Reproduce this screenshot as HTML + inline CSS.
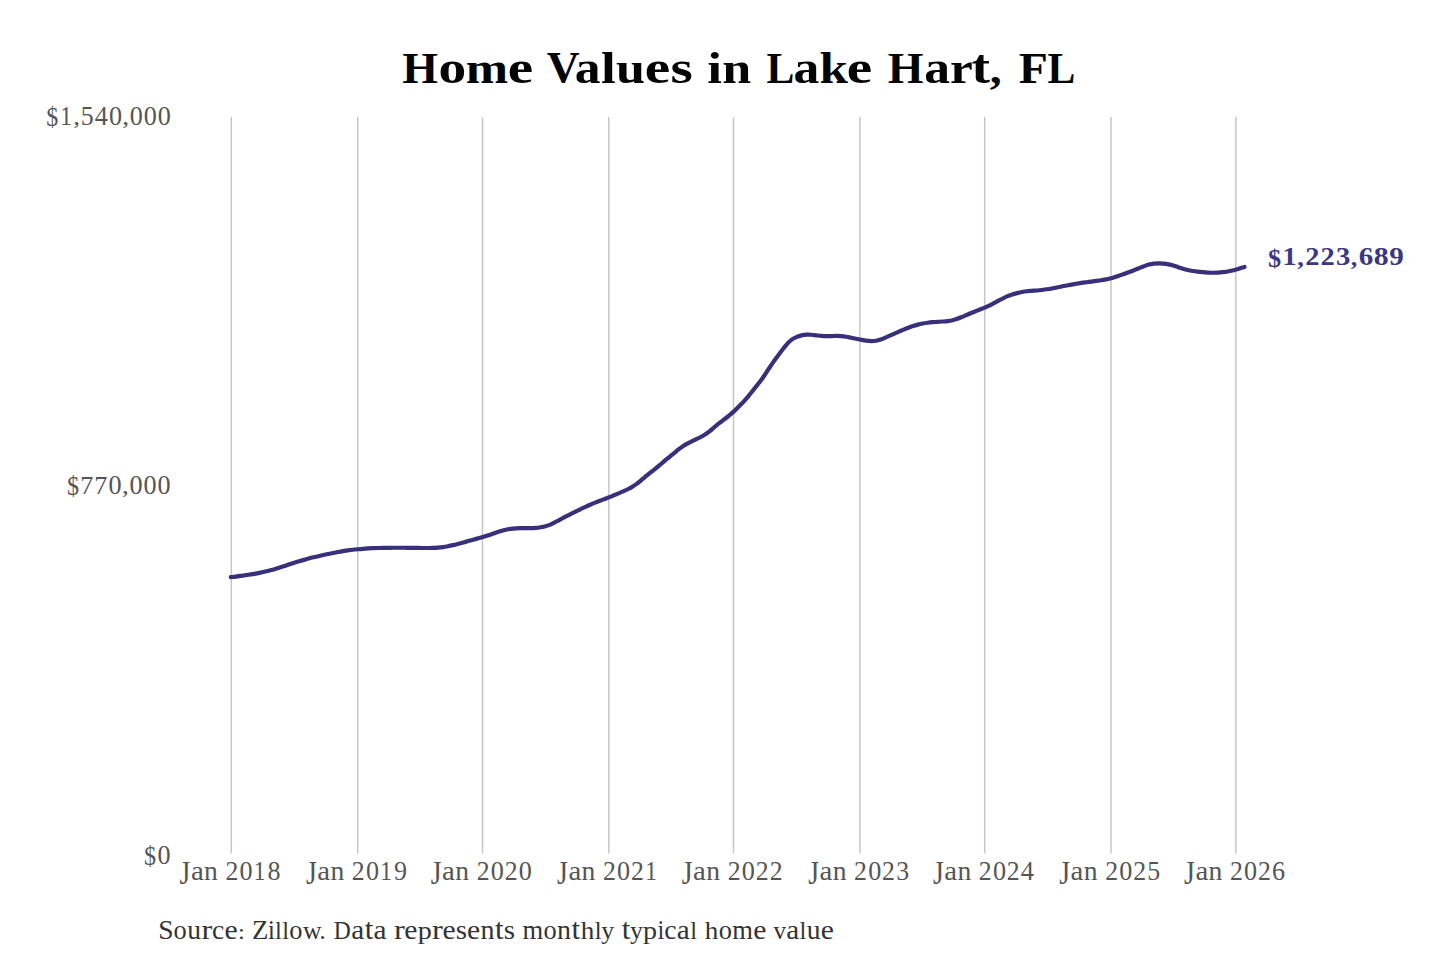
<!DOCTYPE html>
<html><head><meta charset="utf-8"><title>Home Values in Lake Hart, FL</title>
<style>
html,body{margin:0;padding:0;background:#fff;width:1440px;height:960px;overflow:hidden}
svg{display:block}
text{font-family:"Liberation Serif",serif}
</style></head><body>
<svg width="1440" height="960" viewBox="0 0 1440 960">
<rect width="1440" height="960" fill="#fff"/>
<g id="grid" stroke="#c6c6c6" stroke-width="1.5">
<line x1="231.30" y1="117" x2="231.30" y2="853.5"/>
<line x1="357.70" y1="117" x2="357.70" y2="853.5"/>
<line x1="482.50" y1="117" x2="482.50" y2="853.5"/>
<line x1="608.80" y1="117" x2="608.80" y2="853.5"/>
<line x1="733.50" y1="117" x2="733.50" y2="853.5"/>
<line x1="859.90" y1="117" x2="859.90" y2="853.5"/>
<line x1="984.70" y1="117" x2="984.70" y2="853.5"/>
<line x1="1111.00" y1="117" x2="1111.00" y2="853.5"/>
<line x1="1235.80" y1="117" x2="1235.80" y2="853.5"/>
</g>
<path id="series" d="M230.80,577.10 C231.65,577.01 234.26,576.76 235.92,576.56 C237.58,576.37 239.13,576.15 240.76,575.92 C242.39,575.69 244.07,575.44 245.72,575.19 C247.37,574.94 249.03,574.69 250.68,574.42 C252.33,574.16 253.98,573.88 255.62,573.58 C257.27,573.28 258.91,572.97 260.55,572.63 C262.18,572.29 263.82,571.93 265.44,571.55 C267.07,571.16 268.69,570.75 270.31,570.32 C271.92,569.89 273.53,569.44 275.13,568.96 C276.73,568.48 278.33,567.98 279.92,567.47 C281.51,566.96 283.10,566.43 284.68,565.90 C286.27,565.37 287.85,564.81 289.43,564.29 C291.02,563.76 292.61,563.24 294.20,562.74 C295.80,562.24 297.40,561.77 299.01,561.29 C300.61,560.81 302.21,560.34 303.82,559.87 C305.42,559.41 307.03,558.94 308.64,558.51 C310.26,558.08 311.88,557.68 313.51,557.30 C315.13,556.91 316.77,556.55 318.40,556.18 C320.03,555.81 321.66,555.44 323.29,555.07 C324.92,554.71 326.55,554.34 328.19,554.00 C329.83,553.65 331.46,553.31 333.10,552.99 C334.74,552.66 336.39,552.34 338.03,552.04 C339.67,551.73 341.32,551.43 342.97,551.15 C344.61,550.87 346.26,550.60 347.92,550.36 C349.57,550.13 351.23,549.93 352.89,549.75 C354.55,549.56 356.22,549.40 357.88,549.24 C359.55,549.08 361.21,548.93 362.88,548.80 C364.55,548.67 366.21,548.55 367.88,548.45 C369.55,548.35 371.22,548.27 372.89,548.20 C374.56,548.13 376.23,548.07 377.91,548.02 C379.58,547.97 381.25,547.93 382.92,547.90 C384.59,547.86 386.26,547.84 387.94,547.82 C389.61,547.80 391.28,547.78 392.95,547.77 C394.62,547.76 396.30,547.76 397.97,547.75 C399.64,547.75 401.31,547.76 402.99,547.76 C404.66,547.77 406.33,547.78 408.00,547.80 C409.67,547.82 411.35,547.84 413.02,547.86 C414.69,547.89 416.36,547.92 418.03,547.95 C419.71,547.97 421.38,548.00 423.05,548.01 C424.72,548.02 426.39,548.03 428.07,548.02 C429.74,548.01 431.41,548.00 433.08,547.95 C434.75,547.89 436.42,547.83 438.08,547.70 C439.74,547.56 441.40,547.35 443.05,547.11 C444.70,546.87 446.35,546.56 447.99,546.24 C449.62,545.91 451.26,545.54 452.88,545.16 C454.51,544.78 456.13,544.37 457.75,543.95 C459.37,543.54 460.98,543.10 462.60,542.66 C464.21,542.22 465.82,541.77 467.43,541.32 C469.04,540.88 470.65,540.43 472.26,539.98 C473.87,539.53 475.48,539.08 477.09,538.62 C478.70,538.16 480.31,537.69 481.91,537.21 C483.51,536.74 485.11,536.26 486.71,535.76 C488.30,535.25 489.89,534.72 491.47,534.19 C493.05,533.65 494.62,533.08 496.21,532.54 C497.79,532.01 499.37,531.46 500.97,531.00 C502.57,530.53 504.18,530.09 505.81,529.74 C507.44,529.39 509.09,529.12 510.74,528.89 C512.39,528.66 514.06,528.50 515.72,528.39 C517.38,528.27 519.06,528.23 520.73,528.19 C522.40,528.16 524.07,528.17 525.74,528.17 C527.41,528.16 529.09,528.22 530.75,528.17 C532.42,528.13 534.09,528.06 535.75,527.90 C537.40,527.74 539.06,527.50 540.70,527.22 C542.35,526.94 544.00,526.63 545.60,526.20 C547.20,525.77 548.78,525.28 550.31,524.66 C551.85,524.04 553.31,523.23 554.78,522.47 C556.26,521.70 557.70,520.84 559.17,520.04 C560.64,519.25 562.12,518.46 563.60,517.68 C565.08,516.90 566.56,516.13 568.05,515.37 C569.54,514.61 571.03,513.86 572.53,513.11 C574.02,512.36 575.52,511.62 577.03,510.89 C578.53,510.15 580.03,509.42 581.54,508.70 C583.05,507.99 584.56,507.27 586.08,506.57 C587.60,505.88 589.13,505.20 590.66,504.54 C592.20,503.88 593.75,503.25 595.30,502.62 C596.85,502.00 598.41,501.39 599.97,500.78 C601.53,500.18 603.10,499.60 604.66,499.00 C606.21,498.40 607.77,497.79 609.32,497.17 C610.88,496.55 612.42,495.90 613.96,495.26 C615.51,494.62 617.06,493.99 618.60,493.35 C620.14,492.71 621.70,492.09 623.22,491.41 C624.74,490.72 626.25,490.01 627.74,489.25 C629.23,488.49 630.70,487.69 632.13,486.84 C633.56,485.99 634.97,485.11 636.33,484.14 C637.68,483.17 638.96,482.10 640.25,481.04 C641.54,479.99 642.79,478.87 644.07,477.80 C645.35,476.72 646.63,475.64 647.92,474.58 C649.22,473.53 650.54,472.51 651.86,471.47 C653.17,470.43 654.49,469.41 655.79,468.36 C657.09,467.30 658.37,466.23 659.65,465.16 C660.93,464.08 662.19,462.98 663.46,461.89 C664.73,460.81 666.00,459.72 667.29,458.65 C668.57,457.58 669.87,456.53 671.16,455.47 C672.45,454.41 673.75,453.35 675.03,452.28 C676.32,451.22 677.56,450.10 678.88,449.09 C680.20,448.07 681.54,447.10 682.94,446.20 C684.34,445.30 685.81,444.50 687.27,443.69 C688.73,442.89 690.22,442.12 691.71,441.37 C693.21,440.63 694.73,439.94 696.24,439.21 C697.74,438.48 699.26,437.78 700.73,436.99 C702.19,436.20 703.64,435.36 705.04,434.45 C706.44,433.55 707.79,432.56 709.11,431.55 C710.43,430.53 711.70,429.44 712.98,428.36 C714.26,427.29 715.50,426.18 716.80,425.12 C718.09,424.07 719.42,423.06 720.75,422.04 C722.07,421.02 723.42,420.03 724.75,419.01 C726.07,417.99 727.39,416.96 728.68,415.90 C729.97,414.84 731.25,413.77 732.49,412.65 C733.73,411.54 734.92,410.36 736.12,409.20 C737.32,408.04 738.51,406.86 739.68,405.68 C740.86,404.50 742.05,403.33 743.19,402.11 C744.33,400.88 745.43,399.62 746.51,398.35 C747.59,397.08 748.64,395.78 749.70,394.48 C750.75,393.19 751.79,391.87 752.84,390.57 C753.88,389.27 754.93,387.96 755.98,386.66 C757.02,385.35 758.08,384.05 759.10,382.73 C760.13,381.41 761.16,380.10 762.13,378.74 C763.11,377.39 764.03,376.00 764.96,374.60 C765.88,373.21 766.76,371.79 767.67,370.39 C768.59,368.99 769.51,367.59 770.45,366.21 C771.39,364.83 772.35,363.46 773.32,362.10 C774.29,360.74 775.29,359.40 776.27,358.04 C777.26,356.69 778.24,355.34 779.23,353.99 C780.22,352.65 781.19,351.28 782.21,349.96 C783.22,348.63 784.25,347.31 785.32,346.03 C786.40,344.76 787.47,343.46 788.65,342.31 C789.83,341.16 791.06,340.03 792.41,339.12 C793.77,338.21 795.26,337.46 796.77,336.83 C798.29,336.20 799.91,335.71 801.51,335.34 C803.12,334.98 804.78,334.73 806.42,334.63 C808.07,334.53 809.73,334.63 811.39,334.75 C813.05,334.87 814.70,335.14 816.36,335.32 C818.02,335.51 819.68,335.73 821.34,335.87 C823.01,336.01 824.68,336.13 826.34,336.16 C828.01,336.20 829.68,336.14 831.34,336.09 C833.01,336.05 834.68,335.91 836.34,335.91 C838.01,335.91 839.68,335.95 841.34,336.09 C843.00,336.22 844.65,336.47 846.29,336.75 C847.93,337.03 849.56,337.42 851.20,337.75 C852.83,338.09 854.47,338.45 856.10,338.78 C857.74,339.11 859.38,339.43 861.03,339.73 C862.67,340.03 864.32,340.35 865.97,340.58 C867.62,340.80 869.28,341.03 870.93,341.06 C872.58,341.09 874.24,341.00 875.86,340.74 C877.49,340.48 879.09,340.01 880.66,339.50 C882.24,338.98 883.76,338.28 885.30,337.63 C886.83,336.98 888.35,336.28 889.88,335.61 C891.42,334.94 892.95,334.28 894.48,333.61 C896.01,332.93 897.53,332.24 899.07,331.57 C900.60,330.90 902.12,330.21 903.66,329.57 C905.21,328.92 906.75,328.29 908.32,327.70 C909.88,327.11 911.46,326.55 913.05,326.04 C914.64,325.53 916.24,325.07 917.86,324.65 C919.47,324.23 921.11,323.86 922.74,323.54 C924.38,323.22 926.03,322.95 927.69,322.73 C929.34,322.50 931.01,322.35 932.67,322.21 C934.33,322.06 936.00,321.98 937.67,321.86 C939.34,321.75 941.01,321.66 942.68,321.52 C944.34,321.39 946.01,321.27 947.66,321.05 C949.31,320.83 950.96,320.57 952.58,320.18 C954.19,319.80 955.79,319.30 957.36,318.76 C958.94,318.22 960.48,317.56 962.02,316.93 C963.57,316.29 965.09,315.61 966.64,314.96 C968.18,314.31 969.72,313.66 971.27,313.03 C972.81,312.40 974.37,311.79 975.92,311.17 C977.48,310.55 979.04,309.94 980.58,309.31 C982.13,308.68 983.68,308.05 985.21,307.38 C986.74,306.71 988.26,306.01 989.76,305.28 C991.26,304.54 992.73,303.74 994.21,302.96 C995.68,302.18 997.14,301.36 998.62,300.58 C1000.10,299.79 1001.57,299.00 1003.07,298.27 C1004.57,297.53 1006.08,296.80 1007.61,296.16 C1009.15,295.52 1010.71,294.92 1012.30,294.41 C1013.88,293.90 1015.50,293.49 1017.12,293.09 C1018.74,292.70 1020.38,292.33 1022.02,292.03 C1023.66,291.72 1025.30,291.45 1026.96,291.25 C1028.61,291.05 1030.28,290.97 1031.95,290.84 C1033.61,290.72 1035.28,290.65 1036.95,290.50 C1038.61,290.36 1040.28,290.18 1041.93,289.98 C1043.59,289.78 1045.25,289.56 1046.90,289.30 C1048.55,289.04 1050.20,288.75 1051.84,288.44 C1053.48,288.13 1055.12,287.78 1056.76,287.45 C1058.40,287.12 1060.03,286.79 1061.67,286.46 C1063.31,286.13 1064.95,285.81 1066.60,285.49 C1068.24,285.18 1069.88,284.87 1071.53,284.57 C1073.17,284.27 1074.82,283.98 1076.47,283.70 C1078.12,283.43 1079.77,283.16 1081.42,282.91 C1083.07,282.67 1084.73,282.46 1086.39,282.24 C1088.05,282.02 1089.71,281.82 1091.37,281.60 C1093.02,281.38 1094.68,281.17 1096.34,280.94 C1097.99,280.71 1099.65,280.48 1101.30,280.22 C1102.95,279.96 1104.61,279.71 1106.25,279.39 C1107.88,279.07 1109.52,278.74 1111.13,278.31 C1112.74,277.88 1114.31,277.33 1115.89,276.80 C1117.48,276.27 1119.05,275.69 1120.62,275.13 C1122.20,274.57 1123.78,274.02 1125.35,273.45 C1126.92,272.88 1128.49,272.30 1130.05,271.70 C1131.61,271.11 1133.17,270.49 1134.72,269.88 C1136.28,269.27 1137.83,268.65 1139.39,268.04 C1140.95,267.43 1142.50,266.81 1144.07,266.23 C1145.63,265.66 1147.20,265.04 1148.79,264.60 C1150.39,264.15 1152.01,263.78 1153.65,263.56 C1155.28,263.35 1156.96,263.30 1158.62,263.31 C1160.28,263.32 1161.95,263.46 1163.60,263.64 C1165.26,263.82 1166.92,264.06 1168.55,264.38 C1170.18,264.71 1171.80,265.12 1173.40,265.57 C1175.00,266.03 1176.57,266.61 1178.16,267.13 C1179.75,267.65 1181.32,268.21 1182.92,268.69 C1184.52,269.16 1186.13,269.61 1187.76,269.99 C1189.38,270.37 1191.03,270.68 1192.67,270.97 C1194.32,271.25 1195.97,271.47 1197.63,271.67 C1199.29,271.88 1200.96,272.05 1202.62,272.20 C1204.28,272.35 1205.95,272.50 1207.62,272.59 C1209.28,272.68 1210.95,272.74 1212.62,272.74 C1214.29,272.75 1215.97,272.70 1217.63,272.61 C1219.30,272.52 1220.97,272.39 1222.63,272.20 C1224.28,272.01 1225.94,271.77 1227.58,271.48 C1229.23,271.19 1230.87,270.85 1232.49,270.46 C1234.11,270.08 1235.78,269.61 1237.30,269.18 C1238.83,268.74 1240.42,268.22 1241.62,267.84 C1242.82,267.46 1244.02,267.06 1244.50,266.90" fill="none" stroke="#36317a" stroke-width="4.2" stroke-linecap="round" stroke-linejoin="round"/>
<g id="title" font-size="40" fill="#050505" font-weight="bold">
<text transform="matrix(1.1474 0 0 1.1144 402.22 83.00)">H</text>
<text transform="matrix(1.3838 0 0 1.1392 438.49 83.12)">o</text>
<text transform="matrix(1.2698 0 0 1.1327 465.66 83.00)">m</text>
<text transform="matrix(1.4340 0 0 1.1427 507.71 83.14)">e</text>
<text transform="matrix(1.1386 0 0 1.0893 546.69 82.34)">V</text>
<text transform="matrix(1.2914 0 0 1.1438 574.81 83.12)">a</text>
<text transform="matrix(1.3313 0 0 1.0961 601.10 83.00)">l</text>
<text transform="matrix(1.3042 0 0 1.1327 616.11 83.01)">u</text>
<text transform="matrix(1.4340 0 0 1.1427 644.77 83.14)">e</text>
<text transform="matrix(1.4335 0 0 1.1392 670.55 83.12)">s</text>
<text transform="matrix(1.3313 0 0 1.0961 707.25 83.00)">i</text>
<text transform="matrix(1.3042 0 0 1.1327 722.23 83.00)">n</text>
<text transform="matrix(1.0444 0 0 1.1144 766.47 83.00)">L</text>
<text transform="matrix(1.2914 0 0 1.1438 793.44 83.12)">a</text>
<text transform="matrix(1.2768 0 0 1.0961 819.50 83.00)">k</text>
<text transform="matrix(1.4340 0 0 1.1427 846.83 83.14)">e</text>
<text transform="matrix(1.1474 0 0 1.1144 887.65 83.00)">H</text>
<text transform="matrix(1.2914 0 0 1.1438 924.37 83.12)">a</text>
<text transform="matrix(1.2864 0 0 1.1269 950.10 83.00)">r</text>
<text transform="matrix(1.3873 0 0 1.2135 971.49 83.09)">t</text>
<text transform="matrix(1.1977 0 0 1.0641 989.82 83.02)">,</text>
<text transform="matrix(1.1917 0 0 1.1144 1018.86 83.00)">F</text>
<text transform="matrix(1.0444 0 0 1.1144 1047.39 83.00)">L</text>
</g>
<g id="y1" font-size="40" fill="#555555">
<text transform="matrix(0.6035 0 0 0.6660 46.36 126.13)">$</text>
<text transform="matrix(0.5806 0 0 0.6609 60.16 124.70)">1</text>
<text transform="matrix(0.6827 0 0 0.5655 73.25 124.42)">,</text>
<text transform="matrix(0.6466 0 0 0.6574 80.85 124.78)">5</text>
<text transform="matrix(0.6562 0 0 0.6629 94.63 124.70)">4</text>
<text transform="matrix(0.6532 0 0 0.6589 108.90 124.78)">0</text>
<text transform="matrix(0.6827 0 0 0.5655 122.18 124.42)">,</text>
<text transform="matrix(0.6532 0 0 0.6589 129.87 124.78)">0</text>
<text transform="matrix(0.6532 0 0 0.6589 143.85 124.78)">0</text>
<text transform="matrix(0.6532 0 0 0.6589 157.83 124.78)">0</text>
</g>
<g id="y2" font-size="40" fill="#555555">
<text transform="matrix(0.6045 0 0 0.6671 66.96 495.18)">$</text>
<text transform="matrix(0.6517 0 0 0.6556 80.27 493.75)">7</text>
<text transform="matrix(0.6517 0 0 0.6556 94.27 493.75)">7</text>
<text transform="matrix(0.6543 0 0 0.6600 108.60 493.83)">0</text>
<text transform="matrix(0.6838 0 0 0.5664 121.90 493.47)">,</text>
<text transform="matrix(0.6543 0 0 0.6600 129.60 493.83)">0</text>
<text transform="matrix(0.6543 0 0 0.6600 143.61 493.83)">0</text>
<text transform="matrix(0.6543 0 0 0.6600 157.61 493.83)">0</text>
</g>
<g id="y3" font-size="40" fill="#555555">
<text transform="matrix(0.6042 0 0 0.6668 144.00 865.33)">$</text>
<text transform="matrix(0.6539 0 0 0.6596 157.62 863.98)">0</text>
</g>
<g id="ann" font-size="40" fill="#3b3782" font-weight="bold">
<text transform="matrix(0.6577 0 0 0.6205 1267.96 266.51)">$</text>
<text transform="matrix(0.7049 0 0 0.6154 1282.60 265.20)">1</text>
<text transform="matrix(0.6550 0 0 0.5819 1297.37 265.21)">,</text>
<text transform="matrix(0.7110 0 0 0.6136 1305.32 265.20)">2</text>
<text transform="matrix(0.7110 0 0 0.6136 1320.55 265.20)">2</text>
<text transform="matrix(0.7184 0 0 0.6162 1335.97 265.27)">3</text>
<text transform="matrix(0.6550 0 0 0.5819 1350.69 265.21)">,</text>
<text transform="matrix(0.7262 0 0 0.6162 1358.76 265.27)">6</text>
<text transform="matrix(0.7453 0 0 0.6135 1373.75 265.27)">8</text>
<text transform="matrix(0.7256 0 0 0.6162 1389.24 265.27)">9</text>
</g>
<g id="src" font-size="40" fill="#333333">
<text transform="matrix(0.6888 0 0 0.6653 158.26 939.37)">S</text>
<text transform="matrix(0.6603 0 0 0.6726 173.61 939.37)">o</text>
<text transform="matrix(0.6885 0 0 0.6723 187.17 939.37)">u</text>
<text transform="matrix(0.8099 0 0 0.6688 201.45 939.30)">r</text>
<text transform="matrix(0.6904 0 0 0.6726 212.02 939.37)">c</text>
<text transform="matrix(0.7415 0 0 0.6726 224.40 939.37)">e</text>
<text transform="matrix(0.6154 0 0 0.5480 238.02 939.32)">:</text>
<text transform="matrix(0.6700 0 0 0.6580 251.97 939.30)">Z</text>
<text transform="matrix(0.6114 0 0 0.6568 268.04 939.30)">i</text>
<text transform="matrix(0.6125 0 0 0.6472 275.03 939.30)">l</text>
<text transform="matrix(0.6125 0 0 0.6472 282.17 939.30)">l</text>
<text transform="matrix(0.6603 0 0 0.6726 289.25 939.37)">o</text>
<text transform="matrix(0.6430 0 0 0.6544 302.91 939.04)">w</text>
<text transform="matrix(0.6129 0 0 0.6521 319.50 939.27)">.</text>
<text transform="matrix(0.5880 0 0 0.6560 333.75 939.25)">D</text>
<text transform="matrix(0.7312 0 0 0.6754 351.16 939.37)">a</text>
<text transform="matrix(0.7766 0 0 0.7165 364.71 939.35)">t</text>
<text transform="matrix(0.7312 0 0 0.6754 373.42 939.37)">a</text>
<text transform="matrix(0.8099 0 0 0.6688 393.88 939.30)">r</text>
<text transform="matrix(0.7415 0 0 0.6726 404.34 939.37)">e</text>
<text transform="matrix(0.7032 0 0 0.6404 417.77 938.76)">p</text>
<text transform="matrix(0.8099 0 0 0.6688 432.02 939.30)">r</text>
<text transform="matrix(0.7415 0 0 0.6726 442.47 939.37)">e</text>
<text transform="matrix(0.7251 0 0 0.6726 455.78 939.37)">s</text>
<text transform="matrix(0.7415 0 0 0.6726 467.12 939.37)">e</text>
<text transform="matrix(0.7002 0 0 0.6688 480.53 939.30)">n</text>
<text transform="matrix(0.7766 0 0 0.7165 495.07 939.35)">t</text>
<text transform="matrix(0.7251 0 0 0.6726 503.75 939.37)">s</text>
<text transform="matrix(0.6655 0 0 0.6688 522.47 939.30)">m</text>
<text transform="matrix(0.6603 0 0 0.6726 543.48 939.37)">o</text>
<text transform="matrix(0.7002 0 0 0.6688 556.96 939.30)">n</text>
<text transform="matrix(0.7766 0 0 0.7165 571.50 939.35)">t</text>
<text transform="matrix(0.6780 0 0 0.6472 580.67 939.30)">h</text>
<text transform="matrix(0.6125 0 0 0.6472 594.64 939.30)">l</text>
<text transform="matrix(0.6510 0 0 0.6492 601.24 938.95)">y</text>
<text transform="matrix(0.7766 0 0 0.7165 621.65 939.35)">t</text>
<text transform="matrix(0.6510 0 0 0.6492 629.89 938.95)">y</text>
<text transform="matrix(0.7032 0 0 0.6404 643.06 938.76)">p</text>
<text transform="matrix(0.6114 0 0 0.6568 657.44 939.30)">i</text>
<text transform="matrix(0.6904 0 0 0.6726 664.34 939.37)">c</text>
<text transform="matrix(0.7312 0 0 0.6754 676.86 939.37)">a</text>
<text transform="matrix(0.6125 0 0 0.6472 690.22 939.30)">l</text>
<text transform="matrix(0.6780 0 0 0.6472 704.83 939.30)">h</text>
<text transform="matrix(0.6603 0 0 0.6726 718.76 939.37)">o</text>
<text transform="matrix(0.6655 0 0 0.6688 732.33 939.30)">m</text>
<text transform="matrix(0.7415 0 0 0.6726 753.18 939.37)">e</text>
<text transform="matrix(0.6300 0 0 0.6544 773.45 939.04)">v</text>
<text transform="matrix(0.7312 0 0 0.6754 786.20 939.37)">a</text>
<text transform="matrix(0.6125 0 0 0.6472 799.57 939.30)">l</text>
<text transform="matrix(0.6885 0 0 0.6723 806.78 939.37)">u</text>
<text transform="matrix(0.7415 0 0 0.6726 820.86 939.37)">e</text>
</g>
<g id="x2018" font-size="40" fill="#555555">
<text transform="matrix(0.6954 0 0 0.8298 179.58 884.17)">J</text>
<text transform="matrix(0.7213 0 0 0.6725 190.91 879.67)">a</text>
<text transform="matrix(0.6907 0 0 0.6660 204.10 879.60)">n</text>
<text transform="matrix(0.6451 0 0 0.6597 225.46 879.60)">2</text>
<text transform="matrix(0.6539 0 0 0.6596 239.56 879.68)">0</text>
<text transform="matrix(0.5813 0 0 0.6616 253.74 879.60)">1</text>
<text transform="matrix(0.6514 0 0 0.6596 267.58 879.68)">8</text>
</g>
<g id="x2019" font-size="40" fill="#555555">
<text transform="matrix(0.6954 0 0 0.8298 305.98 884.17)">J</text>
<text transform="matrix(0.7213 0 0 0.6725 317.31 879.67)">a</text>
<text transform="matrix(0.6907 0 0 0.6660 330.50 879.60)">n</text>
<text transform="matrix(0.6451 0 0 0.6597 351.86 879.60)">2</text>
<text transform="matrix(0.6539 0 0 0.6596 365.96 879.68)">0</text>
<text transform="matrix(0.5813 0 0 0.6616 380.14 879.60)">1</text>
<text transform="matrix(0.6519 0 0 0.6625 394.04 879.67)">9</text>
</g>
<g id="x2020" font-size="40" fill="#555555">
<text transform="matrix(0.6954 0 0 0.8298 430.78 884.17)">J</text>
<text transform="matrix(0.7213 0 0 0.6725 442.11 879.67)">a</text>
<text transform="matrix(0.6907 0 0 0.6660 455.30 879.60)">n</text>
<text transform="matrix(0.6451 0 0 0.6597 476.66 879.60)">2</text>
<text transform="matrix(0.6539 0 0 0.6596 490.76 879.68)">0</text>
<text transform="matrix(0.6451 0 0 0.6597 504.66 879.60)">2</text>
<text transform="matrix(0.6539 0 0 0.6596 518.75 879.68)">0</text>
</g>
<g id="x2021" font-size="40" fill="#555555">
<text transform="matrix(0.6954 0 0 0.8298 557.08 884.17)">J</text>
<text transform="matrix(0.7213 0 0 0.6725 568.41 879.67)">a</text>
<text transform="matrix(0.6907 0 0 0.6660 581.60 879.60)">n</text>
<text transform="matrix(0.6451 0 0 0.6597 602.96 879.60)">2</text>
<text transform="matrix(0.6539 0 0 0.6596 617.06 879.68)">0</text>
<text transform="matrix(0.6451 0 0 0.6597 630.96 879.60)">2</text>
<text transform="matrix(0.5813 0 0 0.6616 645.24 879.60)">1</text>
</g>
<g id="x2022" font-size="40" fill="#555555">
<text transform="matrix(0.6954 0 0 0.8298 681.78 884.17)">J</text>
<text transform="matrix(0.7213 0 0 0.6725 693.11 879.67)">a</text>
<text transform="matrix(0.6907 0 0 0.6660 706.30 879.60)">n</text>
<text transform="matrix(0.6451 0 0 0.6597 727.66 879.60)">2</text>
<text transform="matrix(0.6539 0 0 0.6596 741.76 879.68)">0</text>
<text transform="matrix(0.6451 0 0 0.6597 755.66 879.60)">2</text>
<text transform="matrix(0.6451 0 0 0.6597 769.66 879.60)">2</text>
</g>
<g id="x2023" font-size="40" fill="#555555">
<text transform="matrix(0.6954 0 0 0.8298 808.18 884.17)">J</text>
<text transform="matrix(0.7213 0 0 0.6725 819.51 879.67)">a</text>
<text transform="matrix(0.6907 0 0 0.6660 832.70 879.60)">n</text>
<text transform="matrix(0.6451 0 0 0.6597 854.06 879.60)">2</text>
<text transform="matrix(0.6539 0 0 0.6596 868.16 879.68)">0</text>
<text transform="matrix(0.6451 0 0 0.6597 882.06 879.60)">2</text>
<text transform="matrix(0.6469 0 0 0.6625 896.13 879.67)">3</text>
</g>
<g id="x2024" font-size="40" fill="#555555">
<text transform="matrix(0.6954 0 0 0.8298 932.98 884.17)">J</text>
<text transform="matrix(0.7213 0 0 0.6725 944.31 879.67)">a</text>
<text transform="matrix(0.6907 0 0 0.6660 957.50 879.60)">n</text>
<text transform="matrix(0.6451 0 0 0.6597 978.86 879.60)">2</text>
<text transform="matrix(0.6539 0 0 0.6596 992.96 879.68)">0</text>
<text transform="matrix(0.6451 0 0 0.6597 1006.86 879.60)">2</text>
<text transform="matrix(0.6569 0 0 0.6636 1020.66 879.60)">4</text>
</g>
<g id="x2025" font-size="40" fill="#555555">
<text transform="matrix(0.6954 0 0 0.8298 1059.28 884.17)">J</text>
<text transform="matrix(0.7213 0 0 0.6725 1070.61 879.67)">a</text>
<text transform="matrix(0.6907 0 0 0.6660 1083.80 879.60)">n</text>
<text transform="matrix(0.6451 0 0 0.6597 1105.16 879.60)">2</text>
<text transform="matrix(0.6539 0 0 0.6596 1119.26 879.68)">0</text>
<text transform="matrix(0.6451 0 0 0.6597 1133.16 879.60)">2</text>
<text transform="matrix(0.6473 0 0 0.6581 1147.16 879.68)">5</text>
</g>
<g id="x2026" font-size="40" fill="#555555">
<text transform="matrix(0.6954 0 0 0.8298 1184.08 884.17)">J</text>
<text transform="matrix(0.7213 0 0 0.6725 1195.41 879.67)">a</text>
<text transform="matrix(0.6907 0 0 0.6660 1208.60 879.60)">n</text>
<text transform="matrix(0.6451 0 0 0.6597 1229.96 879.60)">2</text>
<text transform="matrix(0.6539 0 0 0.6596 1244.06 879.68)">0</text>
<text transform="matrix(0.6451 0 0 0.6597 1257.96 879.60)">2</text>
<text transform="matrix(0.6518 0 0 0.6625 1271.95 879.67)">6</text>
</g>
</svg>
</body></html>
